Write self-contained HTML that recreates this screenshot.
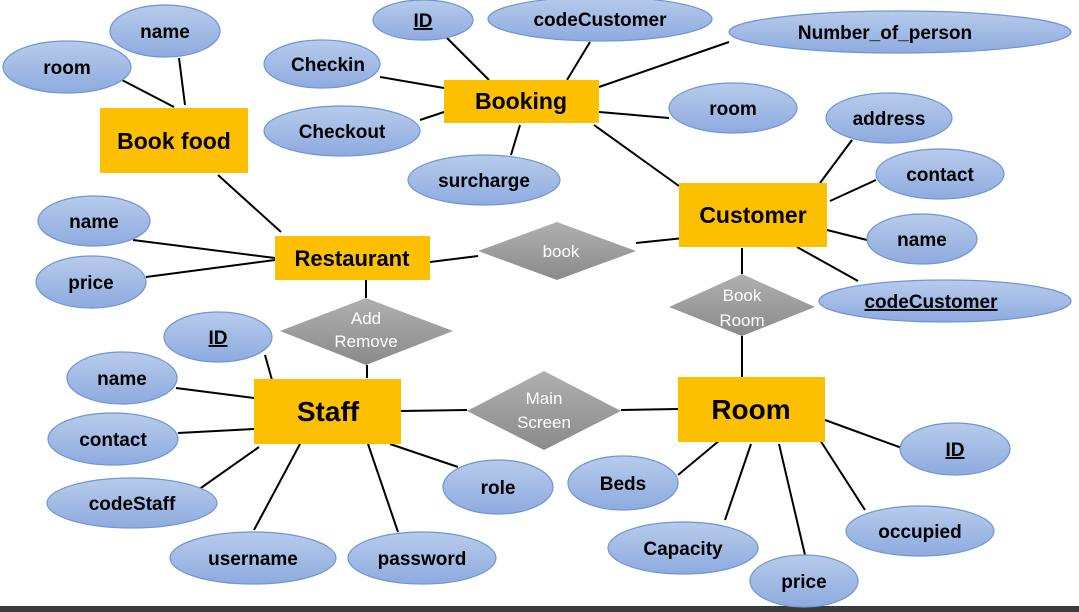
<!DOCTYPE html>
<html><head><meta charset="utf-8"><style>
html,body{margin:0;padding:0;background:#fff;width:1079px;height:612px;overflow:hidden}
svg{display:block}
text{font-family:"Liberation Sans",sans-serif;font-weight:bold}
</style></head><body>
<svg width="1079" height="612" viewBox="0 0 1079 612">
<defs>
<linearGradient id="eg" x1="0" y1="0" x2="0" y2="1"><stop offset="0" stop-color="#b7cbeb"/><stop offset="1" stop-color="#8eabdf"/></linearGradient>
<linearGradient id="dg" x1="0" y1="0" x2="0" y2="1"><stop offset="0" stop-color="#b0b0b0"/><stop offset="1" stop-color="#8a8a8a"/></linearGradient>
</defs>
<rect x="0" y="606" width="1079" height="6" fill="#3a3a3a"/>
<g stroke="#000" stroke-width="2">
<line x1="122" y1="80" x2="174" y2="107"/><line x1="179" y1="58" x2="185" y2="105"/>
<line x1="218" y1="175" x2="281" y2="232"/>
<line x1="447" y1="38" x2="489" y2="80"/><line x1="590" y1="42" x2="567" y2="80"/>
<line x1="729" y1="42" x2="599" y2="87"/><line x1="380" y1="77" x2="444" y2="88"/>
<line x1="420" y1="120" x2="444" y2="112"/><line x1="599" y1="112" x2="669" y2="118"/>
<line x1="520" y1="125" x2="511" y2="155"/><line x1="594" y1="125" x2="679" y2="186"/>
<line x1="852" y1="140" x2="820" y2="183"/><line x1="876" y1="180" x2="830" y2="201"/>
<line x1="827" y1="230" x2="867" y2="240"/><line x1="797" y1="247" x2="858" y2="281"/>
<line x1="133" y1="240" x2="275" y2="258"/><line x1="146" y1="277" x2="275" y2="260"/>
<line x1="430" y1="262" x2="478" y2="256"/><line x1="636" y1="243" x2="684" y2="238"/>
<line x1="366" y1="280" x2="366" y2="298"/><line x1="367" y1="365" x2="367" y2="378"/>
<line x1="742" y1="248" x2="742" y2="274"/><line x1="742" y1="336" x2="742" y2="377"/>
<line x1="265" y1="355" x2="272" y2="380"/><line x1="176" y1="388" x2="254" y2="398"/>
<line x1="178" y1="433" x2="254" y2="429"/><line x1="198" y1="490" x2="259" y2="447"/>
<line x1="254" y1="530" x2="300" y2="444"/><line x1="398" y1="532" x2="368" y2="444"/>
<line x1="390" y1="444" x2="458" y2="467"/>
<line x1="401" y1="411" x2="467" y2="410"/><line x1="621" y1="410" x2="678" y2="409"/>
<line x1="678" y1="475" x2="720" y2="440"/><line x1="725" y1="520" x2="751" y2="444"/>
<line x1="805" y1="555" x2="779" y2="444"/><line x1="865" y1="510" x2="820" y2="440"/>
<line x1="825" y1="420" x2="902" y2="448"/>
</g>
<g fill="url(#eg)" stroke="#6f96d3" stroke-width="1.2">
<ellipse cx="165" cy="31" rx="55" ry="26"/><ellipse cx="67" cy="67" rx="64" ry="26"/>
<ellipse cx="423" cy="20" rx="50" ry="20"/><ellipse cx="600" cy="19" rx="112" ry="22"/>
<ellipse cx="900" cy="32" rx="171" ry="21"/><ellipse cx="322" cy="64" rx="58" ry="24"/>
<ellipse cx="342" cy="131" rx="78" ry="25"/><ellipse cx="733" cy="108" rx="64" ry="25"/>
<ellipse cx="484" cy="180" rx="76" ry="25"/><ellipse cx="889" cy="118" rx="63" ry="25"/>
<ellipse cx="940" cy="174" rx="64" ry="25"/><ellipse cx="922" cy="239" rx="55" ry="25"/>
<ellipse cx="945" cy="301" rx="126" ry="21"/><ellipse cx="94" cy="221" rx="56" ry="25"/>
<ellipse cx="91" cy="282" rx="55" ry="26"/><ellipse cx="218" cy="337" rx="54" ry="25"/>
<ellipse cx="122" cy="378" rx="55" ry="26"/><ellipse cx="113" cy="439" rx="65" ry="26"/>
<ellipse cx="132" cy="503" rx="85" ry="25"/><ellipse cx="253" cy="558" rx="83" ry="26"/>
<ellipse cx="422" cy="558" rx="74" ry="26"/><ellipse cx="498" cy="487" rx="55" ry="27"/>
<ellipse cx="623" cy="483" rx="55" ry="27"/><ellipse cx="683" cy="548" rx="75" ry="26"/>
<ellipse cx="804" cy="581" rx="54" ry="26"/><ellipse cx="920" cy="531" rx="74" ry="25"/>
<ellipse cx="955" cy="449" rx="55" ry="26"/>
</g>
<g fill="#fcc000">
<rect x="100" y="108" width="148" height="65"/><rect x="444" y="80" width="155" height="43"/>
<rect x="679" y="183" width="148" height="64"/><rect x="275" y="236" width="155" height="44"/>
<rect x="254" y="379" width="147" height="65"/><rect x="678" y="377" width="147" height="65"/>
</g>
<g fill="url(#dg)">
<polygon points="478,251 557,222 636,251 557,280"/>
<polygon points="280,331 366,298 453,331 366,365"/>
<polygon points="669,307 742,274 815,307 742,336"/>
<polygon points="467,411 544,371 621,411 544,450"/>
</g>
<g font-size="19" text-anchor="middle" fill="#000">
<text x="165" y="38">name</text><text x="67" y="74">room</text>
<text x="423" y="27" text-decoration="underline">ID</text><text x="600" y="26">codeCustomer</text>
<text x="885" y="39">Number_of_person</text><text x="328" y="71">Checkin</text>
<text x="342" y="138">Checkout</text><text x="733" y="115">room</text>
<text x="484" y="187">surcharge</text><text x="889" y="125">address</text>
<text x="940" y="181">contact</text><text x="922" y="246">name</text>
<text x="931" y="308" text-decoration="underline">codeCustomer</text><text x="94" y="228">name</text>
<text x="91" y="289">price</text><text x="218" y="344" text-decoration="underline">ID</text>
<text x="122" y="385">name</text><text x="113" y="446">contact</text>
<text x="132" y="510">codeStaff</text><text x="253" y="565">username</text>
<text x="422" y="565">password</text><text x="498" y="494">role</text>
<text x="623" y="490">Beds</text><text x="683" y="555">Capacity</text>
<text x="804" y="588">price</text><text x="920" y="538">occupied</text>
<text x="955" y="456" text-decoration="underline">ID</text>
</g>
<g text-anchor="middle" fill="#000">
<text x="174" y="149" font-size="23">Book food</text>
<text x="521" y="109" font-size="23">Booking</text>
<text x="753" y="223" font-size="23">Customer</text>
<text x="352" y="266" font-size="22">Restaurant</text>
<text x="328" y="421" font-size="28">Staff</text>
<text x="751" y="419" font-size="28">Room</text>
</g>
<g text-anchor="middle" fill="#fff" font-size="17" style="font-weight:normal">
<text x="561" y="257" style="font-weight:normal">book</text>
<text x="366" y="324" style="font-weight:normal">Add</text><text x="366" y="347" style="font-weight:normal">Remove</text>
<text x="742" y="301" style="font-weight:normal">Book</text><text x="742" y="326" style="font-weight:normal">Room</text>
<text x="544" y="404" style="font-weight:normal">Main</text><text x="544" y="428" style="font-weight:normal">Screen</text>
</g>
</svg>
</body></html>
